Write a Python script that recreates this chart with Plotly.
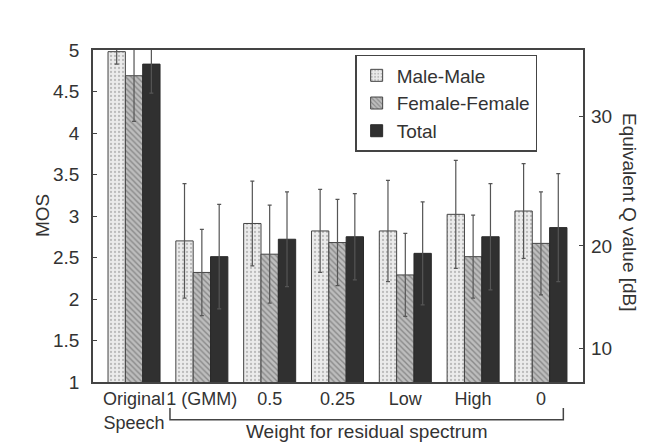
import plotly.graph_objects as go

categories = ["Original<br>Speech", "1 (GMM)", "0.5", "0.25", "Low", "High", "0"]
series_names = ["Male-Male", "Female-Female", "Total"]
male = [4.98, 2.70, 2.91, 2.82, 2.82, 3.02, 3.06]
male_err = [0.15, 0.69, 0.51, 0.50, 0.61, 0.65, 0.57]
female = [4.69, 2.32, 2.54, 2.68, 2.29, 2.51, 2.67]
female_err = [0.55, 0.52, 0.59, 0.52, 0.50, 0.50, 0.62]
total = [4.83, 2.51, 2.72, 2.75, 2.55, 2.75, 2.86]
total_err = [0.35, 0.63, 0.57, 0.52, 0.62, 0.64, 0.65]

mos_ticks = [1, 1.5, 2, 2.5, 3, 3.5, 4, 4.5, 5]
mos_tick_text = ["1", "1.5", "2", "2.5", "3", "3.5", "4", "4.5", "5"]
q_tick_text = ["10", "20", "30"]
q_tick_mos = [1.40, 2.64, 4.20]

FONT = "Liberation Sans, Arial, Helvetica, sans-serif"
TXT = "#333333"
LINE = "#444444"
FS = 19

fig = go.Figure()

err_style = dict(type="data", visible=True, color="#555555", thickness=1.2, width=2)

fig.add_trace(go.Bar(
    name=series_names[0], x=categories, y=male,
    error_y=dict(array=male_err, **err_style),
    marker=dict(color="#e6e6e6", line=dict(color=LINE, width=1),
                pattern=dict(shape=".", bgcolor="#ebebeb", fgcolor="#8a8a8a", size=4, solidity=0.25)),
))
fig.add_trace(go.Bar(
    name=series_names[1], x=categories, y=female,
    error_y=dict(array=female_err, **err_style),
    marker=dict(color="#b0b0b0", line=dict(color=LINE, width=1),
                pattern=dict(shape="\\", bgcolor="#bdbdbd", fgcolor="#555555", size=4, solidity=0.35)),
))
fig.add_trace(go.Bar(
    name=series_names[2], x=categories, y=total,
    error_y=dict(array=total_err, **err_style),
    marker=dict(color="#303030", line=dict(color="#2a2a2a", width=1)),
))
# invisible carrier so the right-hand (Q value) axis is drawn
fig.add_trace(go.Scatter(x=[categories[0]], y=[q_tick_mos[0]], yaxis="y2",
                         mode="markers", marker=dict(opacity=0), showlegend=False,
                         hoverinfo="skip"))

fig.update_layout(
    width=648, height=443,
    margin=dict(l=93, r=65, t=50, b=61),
    paper_bgcolor="white", plot_bgcolor="white",
    font=dict(family=FONT, size=FS, color=TXT),
    barmode="group", bargap=0.233, bargroupgap=0,
    showlegend=True,
    legend=dict(x=0.535, y=0.985, xanchor="left", yanchor="top",
                bgcolor="white", bordercolor=LINE, borderwidth=1.5,
                font=dict(family=FONT, size=FS, color=TXT),
                tracegroupgap=0),
    xaxis=dict(range=[-0.605, 6.62], showline=True, linecolor=LINE, linewidth=1.5,
               mirror=True, ticks="", showgrid=False, ticklabelstandoff=0,
               tickangle=0, automargin=False, tickfont=dict(size=18)),
    yaxis=dict(range=[1, 5], tickvals=mos_ticks, ticktext=mos_tick_text,
               ticks="inside", ticklen=4, tickcolor=LINE, showline=True,
               linecolor=LINE, linewidth=1.5, mirror=True, showgrid=False,
               zeroline=False, ticklabelstandoff=8, automargin=False,
               tickfont=dict(size=FS)),
    yaxis2=dict(range=[1, 5], overlaying="y", side="right", anchor="x",
                tickvals=q_tick_mos, ticktext=q_tick_text,
                ticks="inside", ticklen=4, tickcolor=LINE, showline=False,
                showgrid=False, zeroline=False, ticklabelstandoff=7,
                automargin=False, tickfont=dict(size=FS)),
)

fig.add_annotation(text="MOS", xref="paper", yref="paper", x=-0.104, y=0.5,
                   textangle=-90, showarrow=False, font=dict(size=FS, color=TXT),
                   xanchor="center", yanchor="middle")
fig.add_annotation(text="Equivalent Q value [dB]", xref="paper", yref="paper",
                   x=1.096, y=0.512, textangle=90, showarrow=False,
                   font=dict(size=FS, color=TXT), xanchor="center", yanchor="middle")
bx0, bx1 = 0.53, 6.33
fig.add_shape(type="path", xref="x", yref="paper",
              path=f"M {bx0},-0.078 L {bx0},-0.114 L {bx1},-0.114 L {bx1},-0.078",
              line=dict(color=LINE, width=1.5))
fig.add_annotation(text="Weight for residual spectrum", xref="x", yref="paper",
                   x=(bx0 + bx1) / 2, y=-0.183, showarrow=False, borderpad=0,
                   font=dict(size=FS, color=TXT), xanchor="center", yanchor="bottom")

fig.write_html("out.html")
